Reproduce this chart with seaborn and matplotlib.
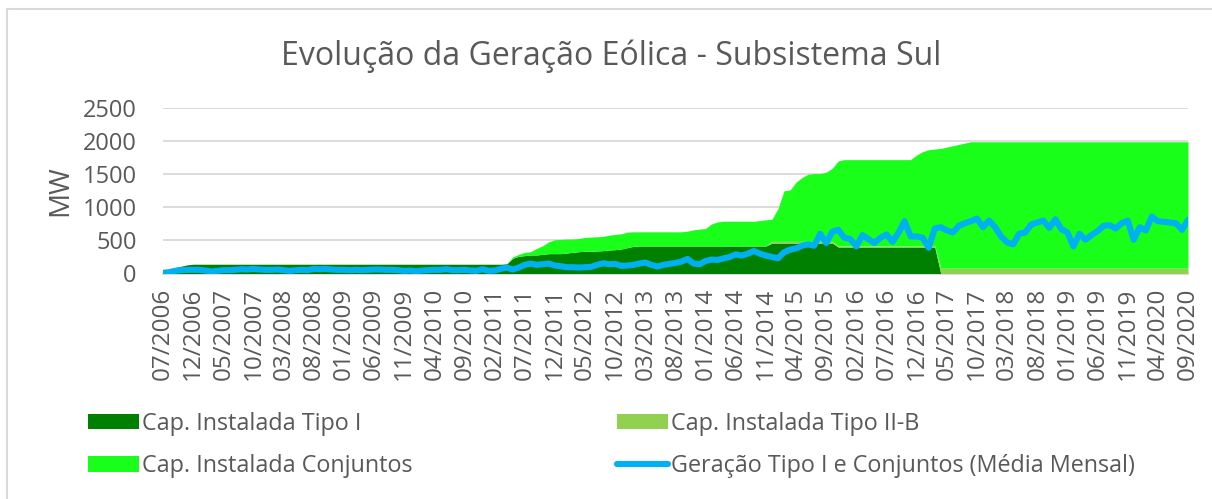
import numpy as np
import matplotlib
matplotlib.use("Agg")
import matplotlib.pyplot as plt
import seaborn as sns
from matplotlib.patches import Patch, Rectangle
from matplotlib.lines import Line2D

# monthly data 07/2006 .. 09/2020 (MW)
tipo_1 = [
    30, 60, 90, 110, 130, 140,
    140, 140, 140, 140, 140, 140, 140, 140, 140, 140, 140, 140,
    140, 140, 140, 140, 140, 140, 140, 140, 140, 140, 140, 140,
    140, 140, 140, 140, 140, 140, 140, 140, 140, 140, 140, 140,
    140, 140, 140, 140, 140, 140, 140, 140, 140, 140, 140, 140,
    140, 140, 140, 145, 230, 260, 270, 280, 280, 290, 300, 300,
    300, 310, 320, 330, 335, 335, 340, 345, 355, 360, 370, 390,
    410, 415, 415, 415, 415, 415, 415, 415, 415, 415, 415, 415,
    415, 415, 415, 415, 415, 415, 415, 415, 415, 415, 415, 460,
    460, 460, 460, 460, 460, 460, 460, 460, 460, 460, 400, 400,
    400, 400, 400, 400, 400, 400, 400, 400, 400, 400, 400, 400,
    400, 400, 400, 0, 0, 0, 0, 0, 0, 0, 0, 0,
    0, 0, 0, 0, 0, 0, 0, 0, 0, 0, 0, 0,
    0, 0, 0, 0, 0, 0, 0, 0, 0, 0, 0, 0,
    0, 0, 0, 0, 0, 0, 0, 0, 0,
]
tipo_2b = [
    0, 0, 0, 0, 0, 0,
    0, 0, 0, 0, 0, 0, 0, 0, 0, 0, 0, 0,
    0, 0, 0, 0, 0, 0, 0, 0, 0, 0, 0, 0,
    0, 0, 0, 0, 0, 0, 0, 0, 0, 0, 0, 0,
    0, 0, 0, 0, 0, 0, 0, 0, 0, 0, 0, 0,
    0, 0, 0, 0, 0, 0, 0, 0, 0, 0, 0, 0,
    0, 0, 0, 0, 0, 0, 0, 0, 0, 0, 0, 0,
    0, 0, 0, 0, 0, 0, 0, 0, 0, 0, 0, 0,
    0, 0, 0, 0, 0, 0, 0, 0, 0, 0, 0, 25,
    25, 25, 25, 25, 25, 25, 25, 25, 25, 25, 15, 15,
    15, 15, 15, 15, 15, 15, 15, 15, 15, 15, 15, 15,
    15, 15, 15, 80, 80, 80, 80, 80, 80, 80, 80, 80,
    80, 80, 80, 80, 80, 80, 80, 80, 80, 80, 80, 80,
    80, 80, 80, 80, 80, 80, 80, 80, 80, 80, 80, 80,
    80, 80, 80, 80, 80, 80, 80, 80, 80,
]
conjuntos = [
    0, 0, 0, 0, 0, 0,
    0, 0, 0, 0, 0, 0, 0, 0, 0, 0, 0, 0,
    0, 0, 0, 0, 0, 0, 0, 0, 0, 0, 0, 0,
    0, 0, 0, 0, 0, 0, 0, 0, 0, 0, 0, 0,
    0, 0, 0, 0, 0, 0, 0, 0, 0, 0, 0, 0,
    0, 0, 0, 0, 20, 30, 50, 50, 100, 130, 180, 210,
    215, 210, 200, 200, 210, 215, 215, 215, 225, 230, 230, 235,
    220, 215, 215, 215, 215, 215, 215, 215, 215, 225, 245, 255,
    265, 335, 365, 375, 375, 375, 375, 375, 375, 385, 395, 335,
    495, 765, 775, 895, 965, 1015, 1025, 1025, 1045, 1105, 1285, 1305,
    1305, 1305, 1305, 1305, 1305, 1305, 1305, 1305, 1305, 1305, 1305, 1375,
    1425, 1455, 1465, 1810, 1830, 1850, 1870, 1890, 1910, 1910, 1910, 1910,
    1910, 1910, 1910, 1910, 1910, 1910, 1910, 1910, 1910, 1910, 1910, 1910,
    1910, 1910, 1910, 1910, 1910, 1910, 1910, 1910, 1910, 1910, 1910, 1910,
    1910, 1910, 1910, 1910, 1910, 1910, 1910, 1910, 1910,
]
geracao = [
    10, 20, 40, 50, 55, 55,
    55, 45, 30, 40, 50, 50, 55, 65, 60, 70, 60, 55,
    55, 60, 50, 40, 50, 55, 50, 70, 65, 70, 60, 55,
    55, 50, 55, 50, 55, 60, 60, 55, 55, 50, 40, 45,
    35, 45, 50, 55, 55, 65, 50, 50, 55, 45, 40, 65,
    40, 45, 70, 90, 60, 90, 130, 150, 130, 140, 150, 120,
    110, 95, 95, 90, 95, 100, 130, 155, 140, 145, 115, 120,
    130, 150, 165, 130, 105, 130, 145, 160, 180, 220, 150, 140,
    190, 210, 205, 230, 250, 290, 270, 300, 340, 300, 270, 250,
    230, 320, 360, 380, 420, 440, 420, 600, 460, 630, 660, 540,
    520, 410, 580, 520, 460, 540, 590, 480, 620, 790, 560, 560,
    540, 390, 680, 700, 650, 620, 720, 760, 790, 830, 700, 800,
    700, 560, 470, 440, 600, 620, 740, 770, 800, 690, 820, 670,
    620, 410, 600, 510, 580, 640, 720, 730, 680, 760, 800, 510,
    700, 650, 860, 790, 780, 770, 760, 660, 810,
]
tick_labels = [
    "07/2006", "12/2006", "05/2007", "10/2007", "03/2008", "08/2008", "01/2009",
    "06/2009", "11/2009", "04/2010", "09/2010", "02/2011", "07/2011", "12/2011",
    "05/2012", "10/2012", "03/2013", "08/2013", "01/2014", "06/2014", "11/2014",
    "04/2015", "09/2015", "02/2016", "07/2016", "12/2016", "05/2017", "10/2017",
    "03/2018", "08/2018", "01/2019", "06/2019", "11/2019", "04/2020", "09/2020",
]
labels = ["Cap. Instalada Tipo I", "Cap. Instalada Tipo II-B",
          "Cap. Instalada Conjuntos", "Geração Tipo I e Conjuntos (Média Mensal)"]

# colors
dark_green = "#008000"
light_green = "#92D050"
bright_green = "#1AFF1A"
blue = "#00B0F0"
grey_txt = "#595959"
grid_col = "#D9D9D9"

sns.set_style("white")
plt.rcParams["font.family"] = ["Open Sans", "DejaVu Sans"]

months = np.arange(len(geracao))

fig = plt.figure(figsize=(12.12, 4.99), dpi=100)
ax = fig.add_axes([163 / 1212, 1 - 273.5 / 499, 1025 / 1212, 165.5 / 499])

ax.stackplot(months, tipo_1, tipo_2b, conjuntos,
             colors=[dark_green, light_green, bright_green], linewidth=0)
sns.lineplot(x=months, y=geracao, ax=ax, color=blue, linewidth=4.4,
             solid_joinstyle="round", solid_capstyle="round", legend=False)

ax.set_xlim(0, len(geracao) - 1)
ax.set_ylim(0, 2500)
ax.set_yticks([0, 500, 1000, 1500, 2000, 2500])
ax.set_xticks(np.arange(0, len(geracao), 5))
ax.set_xticklabels(tick_labels, rotation=90, va="top", ha="center")
ax.yaxis.grid(True, color=grid_col, linewidth=1.3)
ax.set_axisbelow(True)
for s in ["left", "right", "top"]:
    ax.spines[s].set_visible(False)
ax.spines["bottom"].set_color(grid_col)
ax.spines["bottom"].set_linewidth(1.3)
ax.spines["bottom"].set_zorder(0.5)
ax.tick_params(axis="x", colors=grid_col, labelcolor=grey_txt, direction="out",
               length=5, width=1.3, pad=5, labelsize=17.5)
ax.tick_params(axis="y", length=0, pad=19, labelcolor=grey_txt, labelsize=17)
ax.set_xlabel("")
ax.set_ylabel("")

fig.text(60 / 1212, 1 - 191 / 499, "MW", rotation=90, ha="center", va="center",
         fontsize=20, color=grey_txt)
fig.text(0.504, 1 - 56 / 499, "Evolução da Geração Eólica - Subsistema Sul",
         ha="center", va="center", fontsize=23, color=grey_txt)

# legend, two columns
h1 = [Patch(facecolor=dark_green, edgecolor="none"),
      Patch(facecolor=bright_green, edgecolor="none")]
h2 = [Patch(facecolor=light_green, edgecolor="none"),
      Line2D([0], [0], color=blue, linewidth=4.4, solid_capstyle="round")]
leg_kw = dict(loc="center left", frameon=False, fontsize=16.8, labelcolor=grey_txt,
              handlelength=2.2, handleheight=0.65, handletextpad=0.12,
              labelspacing=0.8, borderpad=0, borderaxespad=0)
fig.legend(h1, [labels[0], labels[2]], bbox_to_anchor=(88 / 1212, 1 - 445 / 499), **leg_kw)
fig.legend(h2, [labels[1], labels[3]], bbox_to_anchor=(617 / 1212, 1 - 445 / 499), **leg_kw)

fig.patches.append(Rectangle((7 / 1212, -0.05), 1.2, 1 - 9 / 499 + 0.05, transform=fig.transFigure,
                             fill=False, edgecolor=grid_col, linewidth=1.5))

fig.savefig("out.png", dpi=100)
